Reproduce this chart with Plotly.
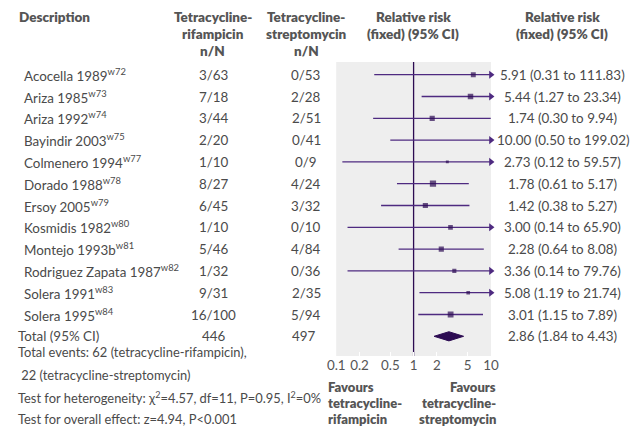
import plotly.graph_objects as go
import numpy as np

# ---------------- data ----------------
studies = ["Acocella 1989", "Ariza 1985", "Ariza 1992", "Bayindir 2003", "Colmenero 1994",
           "Dorado 1988", "Ersoy 2005", "Kosmidis 1982", "Montejo 1993b",
           "Rodriguez Zapata 1987", "Solera 1991", "Solera 1995"]
refs = ["w72", "w73", "w74", "w75", "w77", "w78", "w79", "w80", "w81", "w82", "w83", "w84"]
rif_events = [3, 7, 3, 2, 1, 8, 6, 1, 5, 1, 9, 16]
rif_total = [63, 18, 44, 20, 10, 27, 45, 10, 46, 32, 31, 100]
strep_events = [0, 2, 2, 0, 0, 4, 3, 0, 4, 0, 2, 5]
strep_total = [53, 28, 51, 41, 9, 24, 32, 10, 84, 36, 35, 94]
rr = [5.91, 5.44, 1.74, 10.00, 2.73, 1.78, 1.42, 3.00, 2.28, 3.36, 5.08, 3.01]
rr_lo = [0.31, 1.27, 0.30, 0.50, 0.12, 0.61, 0.38, 0.14, 0.64, 0.14, 1.19, 1.15]
rr_hi = [111.83, 23.34, 9.94, 199.02, 59.57, 5.17, 5.27, 65.90, 8.08, 79.76, 21.74, 7.89]
box_weight = [20, 25, 22, 10, 7, 32, 22, 18, 22, 14, 11, 28]  # relative box areas (estimated)
total_label = "Total (95% CI)"
total_rif, total_strep = 446, 497
total_rr, total_lo, total_hi = 2.86, 1.84, 4.43
tick_vals = [0.1, 0.2, 0.5, 1, 2, 5, 10]
tick_text = ["0.1", "0.2", "0.5", "1", "2", "5", "10"]
footer = ["Total events: 62 (tetracycline-rifampicin),",
          " 22 (tetracycline-streptomycin)",
          "Test for heterogeneity: \u03c7<sup>2</sup>=4.57, df=11, P=0.95, I<sup>2</sup>=0%",
          "Test for overall effect: z=4.94, P<0.001"]
fav_left = ["Favours", "tetracycline-", "rifampicin"]
fav_right = ["Favours", "tetracycline-", "streptomycin"]

# ---------------- layout helpers ----------------
OFF = 8                      # page body margin of the html page
W, H = 643 - OFF, 444 - OFF
FONT = "Lato"
TXT = "#4a4a4a"
HDR = "#555555"
LINE = "#4e2a80"
DARK = "#2c0b52"
XMIN, XMAX = 0.1, 10
BODY = 13.4

def X(px):
    return (px - OFF) / W

def Y(py):
    return 1 - (py - OFF) / H

row0_px, row_step = 74.7, 21.8
panel_top, panel_bot = 62, 356
ytop = (panel_top - row0_px) / row_step
ybot = (panel_bot - row0_px) / row_step

n = len(studies)
rows = list(range(n))
total_row = n

fig = go.Figure()

# null line
fig.add_trace(go.Scatter(x=[1, 1], y=[ytop, ybot], mode="lines",
                         line=dict(color=DARK, width=1.3), hoverinfo="skip"))

# CI lines
lx, ly = [], []
for i in rows:
    lx += [max(rr_lo[i], XMIN), min(rr_hi[i], XMAX), None]
    ly += [i, i, None]
fig.add_trace(go.Scatter(x=lx, y=ly, mode="lines", line=dict(color=LINE, width=1.3),
                         hoverinfo="skip"))

# arrows for CIs beyond the axis
ax_i = [i for i in rows if rr_hi[i] > XMAX]
fig.add_trace(go.Scatter(x=[XMAX] * len(ax_i), y=ax_i, mode="markers",
                         marker=dict(symbol="triangle-right", size=7, color=LINE),
                         cliponaxis=False, hoverinfo="skip"))

# boxes
bi = [i for i in rows if rr[i] < XMAX]
fig.add_trace(go.Scatter(x=[rr[i] for i in bi], y=bi, mode="markers",
                         marker=dict(symbol="square", color=DARK,
                                     size=[np.sqrt(box_weight[i]) * 1.1 for i in bi],
                                     line=dict(width=0)),
                         hoverinfo="skip"))

# diamond
dh = 0.21
fig.add_trace(go.Scatter(x=[total_lo, total_rr, total_hi, total_rr, total_lo],
                         y=[total_row, total_row - dh, total_row, total_row + dh, total_row],
                         mode="lines", fill="toself", fillcolor=DARK,
                         line=dict(color=DARK, width=1), hoverinfo="skip"))

ann = []
def txt(x, y, s, xanchor="left", bold=False, size=BODY, yref="paper", color=None, align="left"):
    ann.append(dict(x=x, y=y, xref="paper", yref=yref, text=s, showarrow=False,
                    xanchor=xanchor, yanchor="middle", align=align,
                    font=dict(family=FONT, size=size, color=color or (HDR if bold else TXT),
                              weight=800 if bold else 400)))

# headers
txt(X(8), Y(17), "Description", bold=True, size=13.5)
for k, s in enumerate(["Tetracycline-", "rifampicin", "n/N"]):
    txt(X(209), Y(17 + 17 * k), s, xanchor="center", bold=True, size=13.5)
for k, s in enumerate(["Tetracycline-", "streptomycin", "n/N"]):
    txt(X(305), Y(17 + 17 * k), s, xanchor="center", bold=True, size=13.5)
for k, s in enumerate(["Relative risk", "(fixed) (95% CI)"]):
    txt(X(415), Y(17 + 16.5 * k), s, xanchor="center", bold=True, size=13.5)
    txt(X(568.5), Y(17 + 16.5 * k), s, xanchor="center", bold=True, size=13.5)

# rows
for i in rows:
    txt(X(13), i, f"{studies[i]}<sup>{refs[i]}</sup>", yref="y")
    txt(X(210), i, f"{rif_events[i]}/{rif_total[i]}", xanchor="center", yref="y")
    txt(X(305), i, f"{strep_events[i]}/{strep_total[i]}", xanchor="center", yref="y")
    txt(X(569), i, f"{rr[i]:.2f} ({rr_lo[i]:.2f} to {rr_hi[i]:.2f})", xanchor="center", yref="y")

# total row
txt(X(7), total_row, total_label, yref="y")
txt(X(210), total_row, str(total_rif), xanchor="center", yref="y")
txt(X(303), total_row, str(total_strep), xanchor="center", yref="y")
txt(X(569), total_row, f"{total_rr:.2f} ({total_lo:.2f} to {total_hi:.2f})", xanchor="center", yref="y")

# footer
for s, py in zip(footer, [352, 374.5, 397, 418.5]):
    txt(X(7), Y(py), s, size=12.9)

# favours labels
for k, (sl, sr) in enumerate(zip(fav_left, fav_right)):
    py = 386.6 + 16.4 * k
    txt(X(326), Y(py), sl, bold=True, size=13)
    txt(X(502), Y(py), sr, xanchor="right", bold=True, size=13)

fig.update_layout(
    width=W, height=H, autosize=False,
    margin=dict(l=0, r=0, t=0, b=0),
    paper_bgcolor="white", plot_bgcolor="#eeeeee",
    showlegend=False,
    annotations=ann,
    font=dict(family=FONT, color=TXT, size=BODY),
    xaxis=dict(type="log", range=[np.log10(XMIN), np.log10(XMAX)],
               domain=[X(336), X(495)], tickvals=tick_vals, ticktext=tick_text,
               ticks="inside", ticklen=4, tickcolor="white", tickwidth=1,
               showgrid=False, zeroline=False, showline=False,
               tickfont=dict(family=FONT, size=BODY, color="#555555")),
    yaxis=dict(range=[ybot, ytop], domain=[Y(panel_bot), Y(panel_top)], visible=False,
               showgrid=False, zeroline=False),
)

fig.write_html("out.html")
